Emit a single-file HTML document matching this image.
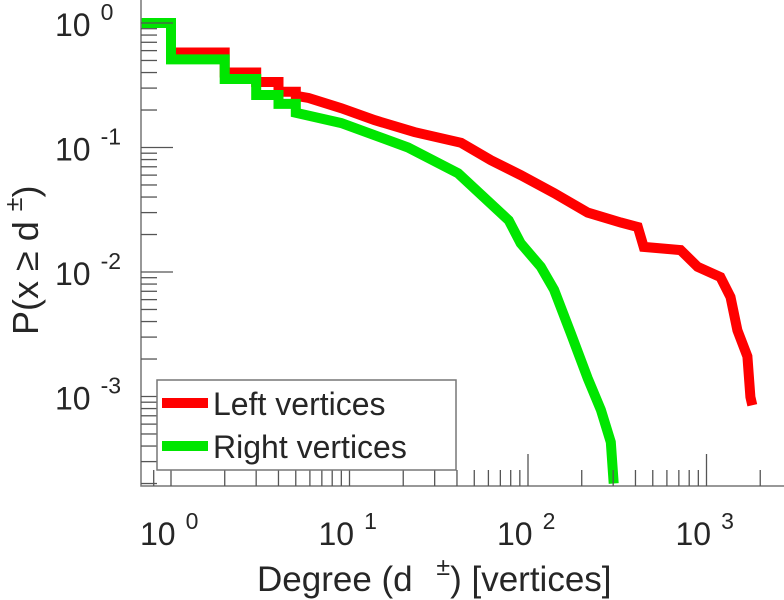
<!DOCTYPE html>
<html><head><meta charset="utf-8"><style>
html,body{margin:0;padding:0;background:#fff;width:784px;height:600px;overflow:hidden}
svg{display:block}
text{font-family:"Liberation Sans",sans-serif;fill:#262626}
</style></head><body>
<svg id="chart" width="784" height="600" viewBox="0 0 784 600" xmlns="http://www.w3.org/2000/svg">
<g id="marks"></g>
<g id="axes"></g>
<g>
  <rect x="157" y="380" width="299" height="90" fill="#fff" stroke="#777" stroke-width="1.5"/>
  <line x1="162" y1="403" x2="208" y2="403" stroke="#ff0000" stroke-width="10"/>
  <text x="213" y="415" font-size="32">Left vertices</text>
  <line x1="162" y1="446" x2="208" y2="446" stroke="#00e600" stroke-width="10"/>
  <text x="213" y="458" font-size="32">Right vertices</text>
</g>
<text x="257" y="591" font-size="35">Degree (d <tspan font-size="25" dy="-16" dx="14">±</tspan><tspan dy="16">) [vertices]</tspan></text>
<text transform="translate(38,335) rotate(-90)" font-size="36">P(x ≥ d <tspan font-size="25" dy="-16">±</tspan><tspan dy="16">)</tspan></text>
</svg>
<script>
const redDeg = [0.6,1,1,2,2,3,3,4,4,5,5,5.9,9.0,13.8,23.1,42.2,62,91,140,216,331,412,445,716,891,1197,1362,1490,1694,1762,1806];
const redP   = [1,1,0.58,0.58,0.40,0.40,0.336,0.336,0.28,0.28,0.26,0.25,0.207,0.166,0.133,0.109,0.079,0.060,0.043,0.030,0.025,0.023,0.0159,0.015,0.011,0.0091,0.0063,0.0034,0.0021,0.00099,0.00085];
const greenDeg = [0.6,1,1,2,2,3,3,4,4,5,5,9.0,21.3,40.6,78,91,118,140,174,216,256,291,302];
const greenP   = [1,1,0.51,0.51,0.355,0.355,0.264,0.264,0.224,0.224,0.19,0.157,0.10,0.062,0.026,0.017,0.011,0.0072,0.0032,0.0014,0.00078,0.00043,0.0002];
const xTicks = [1,10,100,1000];
const xTickExp = ["0","1","2","3"];
const yTicks = [1,0.1,0.01,0.001];
const yTickExp = ["0","-1","-2","-3"];

const NS="http://www.w3.org/2000/svg";
const X0=141, XR=784, YB=486, YT=0;
function xs(d){return 171+178.5*Math.log10(d);}
function ys(p){return 23-124.5*Math.log10(p);}
function mk(tag,attrs,parent){const e=document.createElementNS(NS,tag);for(const k in attrs)e.setAttribute(k,attrs[k]);parent.appendChild(e);return e;}

const marks=document.getElementById('marks');
const defs=mk('defs',{},document.getElementById('chart'));
const cp=mk('clipPath',{id:'clip'},defs);
mk('rect',{x:X0,y:0,width:XR-X0,height:YB},cp);
marks.setAttribute('clip-path','url(#clip)');
function series(ds,ps,color,name){
  const pts=ds.map((d,i)=>xs(d).toFixed(1)+','+ys(ps[i]).toFixed(1)).join(' ');
  const pl=mk('polyline',{points:pts,fill:'none',stroke:color,'stroke-width':10,'stroke-linejoin':'miter','stroke-linecap':'butt'},marks);
  
  
}
series(redDeg,redP,'#ff0000','left-vertices-line');
series(greenDeg,greenP,'#00e600','right-vertices-line');

const axes=document.getElementById('axes');
const ax=mk('path',{d:`M${X0},${YT} V${YB} H${XR}`,fill:'none',stroke:'#777','stroke-width':1.5},axes);


for(let e=0;e<=3;e++){
  for(let m=1;m<=9;m++){
    const d=m*Math.pow(10,e), x=xs(d);
    if(x<X0||x>XR)continue;
    const len=m===1?32:16;
    const t=mk('line',{x1:x,y1:YB,x2:x,y2:YB-len,stroke:'#555','stroke-width':1.3},axes);
    
    
  }
}
{const x=xs(0.8);const t=mk('line',{x1:x,y1:YB,x2:x,y2:YB-16,stroke:'#555','stroke-width':1.3},axes);

}
xTicks.forEach((v,i)=>{
  const t=mk('text',{x:xs(v)-31,y:545,'font-size':32},axes);
  
  
  t.textContent='10';
  const s=mk('tspan',{dx:10,dy:-16,'font-size':23},t);s.textContent=xTickExp[i];
});
for(let e=-4;e<=0;e++){
  for(let m=1;m<=9;m++){
    const p=m*Math.pow(10,e), y=ys(p);
    if(y<YT||y>YB||p>1)continue;
    const len=m===1?32:16;
    const t=mk('line',{x1:X0,y1:y,x2:X0+len,y2:y,stroke:'#555','stroke-width':1.3},axes);
    
    
  }
}
yTicks.forEach((v,i)=>{
  const t=mk('text',{x:55,y:ys(v)+13,'font-size':32},axes);
  
  
  t.textContent='10';
  const s=mk('tspan',{dx:10,dy:-16,'font-size':23},t);s.textContent=yTickExp[i];
});
</script>
</body></html>
